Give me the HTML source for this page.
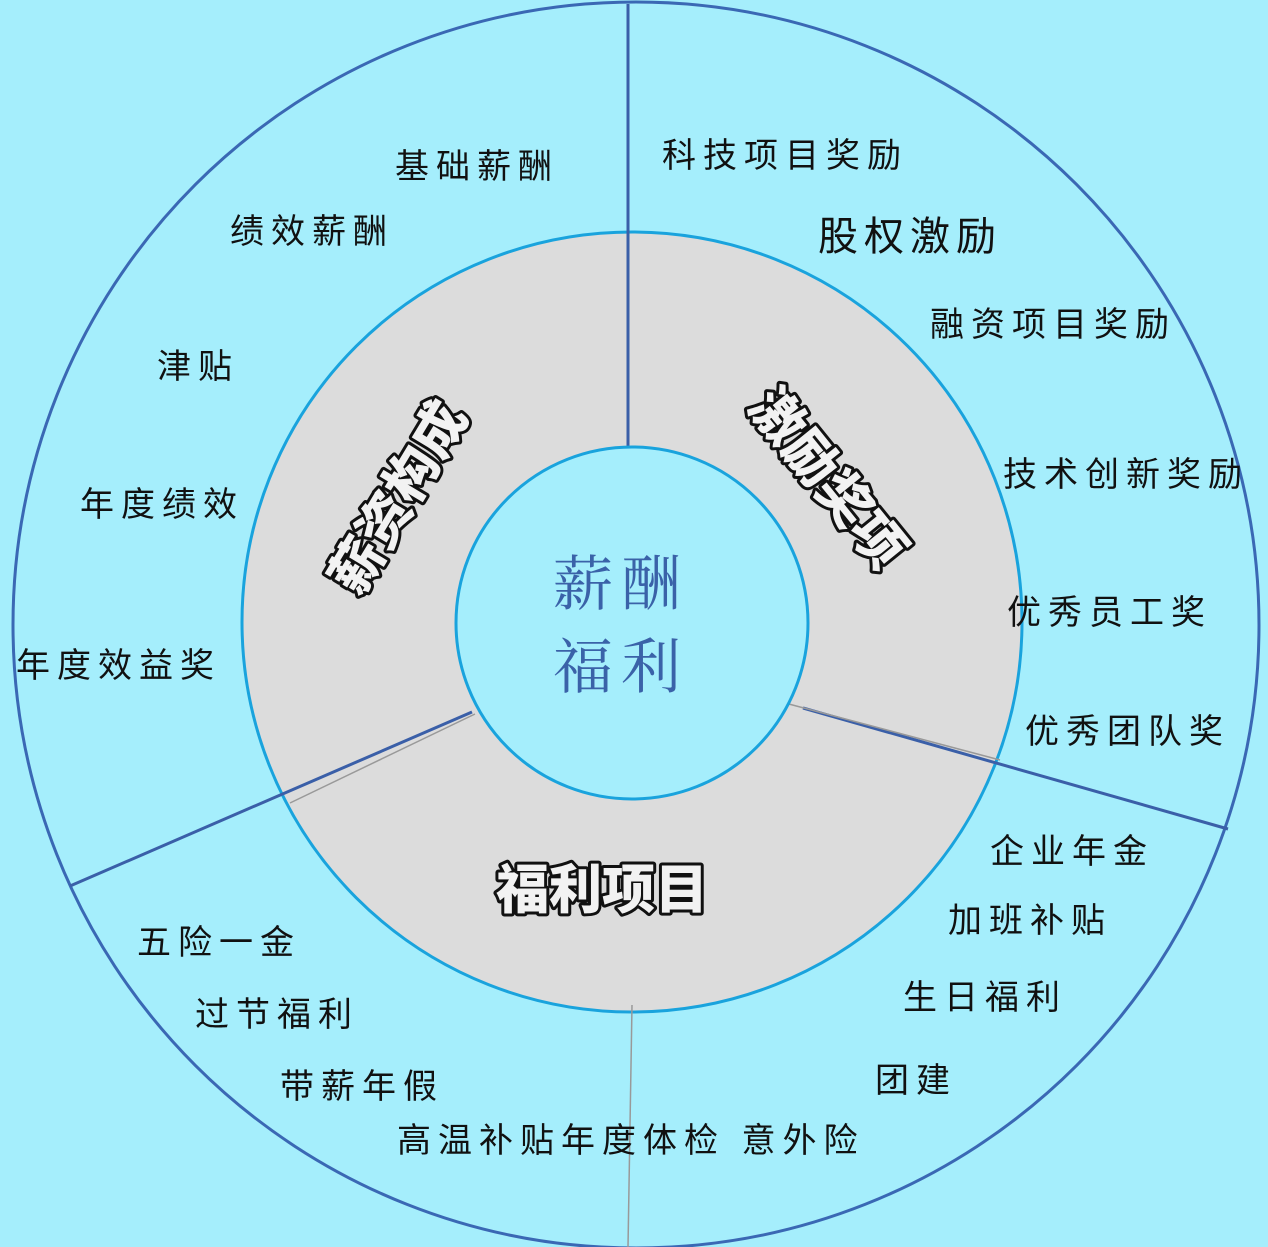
<!DOCTYPE html>
<html><head><meta charset="utf-8"><style>
html,body{margin:0;padding:0;background:#a5eefc;}
svg{display:block}
.l{font-family:"Liberation Sans","Noto Sans CJK SC",sans-serif;font-size:34px;letter-spacing:7px;fill:#111;}
.o{font-family:"Liberation Sans","Noto Sans CJK SC",sans-serif;font-size:53px;font-weight:900;fill:#f2f2f2;stroke:#111;stroke-width:6px;stroke-linejoin:round;paint-order:stroke;letter-spacing:0px;}
</style></head><body>
<svg width="1268" height="1247" viewBox="0 0 1268 1247" xmlns="http://www.w3.org/2000/svg">
<rect width="1268" height="1247" fill="#a5eefc"/>
<circle cx="636" cy="625" r="623" fill="#a5eefc" stroke="#3a68b4" stroke-width="3"/>
<circle cx="632" cy="622" r="390" fill="#dcdcdc" stroke="#19a3dd" stroke-width="3"/>
<line x1="628" y1="4" x2="628" y2="447" stroke="#3a5fa8" stroke-width="3"/>
<line x1="803" y1="708" x2="1228" y2="829" stroke="#3a5fa8" stroke-width="3"/>
<line x1="472" y1="712" x2="70" y2="886" stroke="#3a5fa8" stroke-width="3"/>
<line x1="785" y1="703" x2="1000" y2="760" stroke="#999" stroke-width="1.5"/>
<line x1="475" y1="714" x2="290" y2="803" stroke="#999" stroke-width="1.5"/>
<line x1="632" y1="1005" x2="628" y2="1247" stroke="#999" stroke-width="1.5"/>
<circle cx="632" cy="623" r="176" fill="#a5eefc" stroke="#19a3dd" stroke-width="3"/>
<g font-family="'Liberation Serif','Noto Serif CJK SC',serif" font-size="60" fill="#3a62a8" letter-spacing="8">
<text x="553" y="605">薪酬</text>
<text x="553" y="688">福利</text>
</g>
<text class="o" transform="translate(398,497) rotate(-59)" text-anchor="middle" dy="19">薪资构成</text>
<text class="o" transform="translate(828,478) rotate(51)" text-anchor="middle" dy="19">激励奖项</text>
<text class="o" x="602" y="908" text-anchor="middle">福利项目</text>
<text class="l" x="395" y="178">基础薪酬</text>
<text class="l" x="230" y="243">绩效薪酬</text>
<text class="l" x="157" y="378">津贴</text>
<text class="l" x="80" y="516">年度绩效</text>
<text class="l" x="16" y="677">年度效益奖</text>
<text class="l" x="662" y="167">科技项目奖励</text>
<text class="l" x="818" y="250" style="font-size:40px;letter-spacing:6px">股权激励</text>
<text class="l" x="930" y="336">融资项目奖励</text>
<text class="l" x="1003" y="486">技术创新奖励</text>
<text class="l" x="1007" y="624">优秀员工奖</text>
<text class="l" x="1025" y="743">优秀团队奖</text>
<text class="l" x="990" y="863">企业年金</text>
<text class="l" x="948" y="932">加班补贴</text>
<text class="l" x="903" y="1009">生日福利</text>
<text class="l" x="875" y="1092">团建</text>
<text class="l" x="137" y="954">五险一金</text>
<text class="l" x="195" y="1026">过节福利</text>
<text class="l" x="280" y="1098">带薪年假</text>
<text class="l" x="397" y="1152" style="letter-spacing:7px">高温补贴年度体检 意外险</text>
</svg>
</body></html>
